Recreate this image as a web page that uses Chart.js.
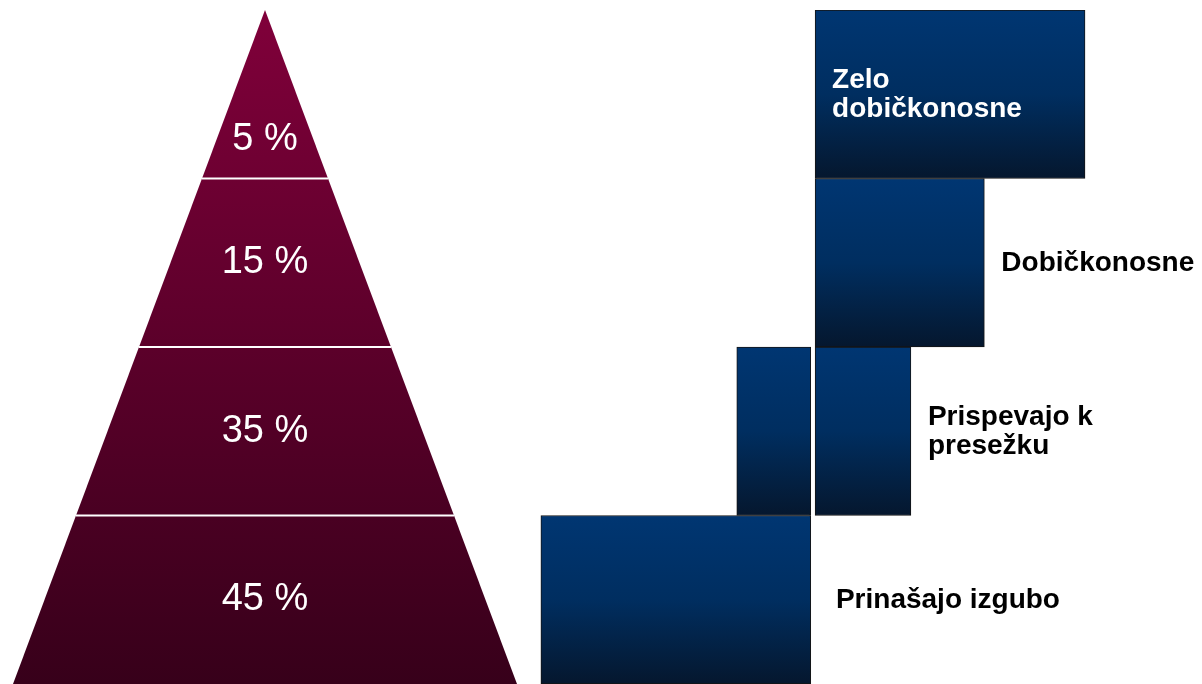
<!DOCTYPE html>
<html>
<head>
<meta charset="utf-8">
<script src="https://cdn.jsdelivr.net/npm/chart.js@4.4.1/dist/chart.umd.min.js"></script>
<style>
  html, body { margin: 0; padding: 0; background: #fff; }
  #wrap { position: relative; width: 1202px; height: 684px; overflow: hidden; }
  #pyrBox { position: absolute; left: 0; top: 0; width: 530px; height: 684px; }
  #barBox { position: absolute; left: 530px; top: 0; width: 672px; height: 684px; }
</style>
</head>
<body>
<div id="wrap">
  <div id="pyrBox"><canvas id="pyramid"></canvas></div>
  <div id="barBox"><canvas id="bars"></canvas></div>
</div>
<script>
// deleži strank po piramidi (od vrha navzdol)
const deleži = [5, 15, 35, 45];
const nivoji = 4; // število pasov v piramidi

// kategorije in vrednosti za desni graf (od vrha navzdol)
const kategorije = [
  ["Zelo", "dobičkonosne"],
  ["Dobičkonosne"],
  ["Prispevajo k", "presežku"],
  ["Prinašajo izgubo"]
];
const pozitivno = [100, 63, 36, 0];
const negativno = [0, 0, -28, -100];
const GAP = 0.8; // bela reža okoli ničle

const FONT = "'Liberation Sans', Arial, sans-serif";

// ---------- piramida ----------
function polSirina(nivo) {
  return (nivoji - nivo) / nivoji;
}

const piramidaData = [
  { x: -polSirina(0), y: 0 },
  { x: 0, y: nivoji },
  { x: polSirina(0), y: 0 }
];

const crte = [];
for (let n = 1; n < nivoji; n++) {
  crte.push({
    data: [{ x: -polSirina(n), y: n }, { x: polSirina(n), y: n }],
    showLine: true,
    borderColor: "#ffffff",
    borderWidth: 2,
    pointRadius: 0,
    fill: false,
    order: 0
  });
}

const napisiPiramida = {
  id: "napisiPiramida",
  afterDatasetsDraw(chart) {
    const ctx = chart.ctx;
    const xs = chart.scales.x, ys = chart.scales.y;
    ctx.save();
    ctx.fillStyle = "#ffffff";
    ctx.font = "38px " + FONT;
    ctx.textAlign = "center";
    ctx.textBaseline = "middle";
    deleži.forEach((d, i) => {
      // vrh je trikotnik, zato je napis malo nižje
      const nivo = i === 0 ? nivoji - 0.77 : nivoji - 0.5 - i;
      ctx.fillText(d + " %", xs.getPixelForValue(0), ys.getPixelForValue(nivo));
    });
    ctx.restore();
  }
};

new Chart(document.getElementById("pyramid"), {
  type: "scatter",
  data: {
    datasets: [{
      data: piramidaData,
      showLine: true,
      borderWidth: 0,
      pointRadius: 0,
      fill: "origin",
      order: 1,
      backgroundColor: (c) => {
        const area = c.chart.chartArea;
        if (!area) return "#5a0028";
        const g = c.chart.ctx.createLinearGradient(0, area.top, 0, area.bottom);
        g.addColorStop(0, "#80003a");
        g.addColorStop(1, "#37001a");
        return g;
      }
    }].concat(crte)
  },
  options: {
    responsive: true,
    maintainAspectRatio: false,
    animation: false,
    layout: { padding: { top: 10, left: 0, right: 0, bottom: 0 } },
    plugins: { legend: { display: false }, tooltip: { enabled: false } },
    scales: {
      x: { type: "linear", min: -1.0516, max: 1.0516, display: false },
      y: { type: "linear", min: 0, max: nivoji, display: false }
    }
  },
  plugins: [napisiPiramida]
});

// ---------- stolpci ----------
function gradientStolpca(c) {
  const chart = c.chart;
  if (!chart.chartArea || !chart.scales.y) return "#00306a";
  const ys = chart.scales.y;
  const h = (chart.chartArea.bottom - chart.chartArea.top) / kategorije.length;
  const sred = ys.getPixelForValue(c.dataIndex);
  const g = chart.ctx.createLinearGradient(0, sred - h / 2, 0, sred + h / 2);
  g.addColorStop(0, "#003672");
  g.addColorStop(0.5, "#002e60");
  g.addColorStop(1, "#05172e");
  return g;
}

const napisiStolpci = {
  id: "napisiStolpci",
  afterDatasetsDraw(chart) {
    const ctx = chart.ctx;
    const xs = chart.scales.x, ys = chart.scales.y;
    ctx.save();
    ctx.font = "bold 28px " + FONT;
    ctx.textAlign = "left";
    ctx.textBaseline = "middle";
    const vrstica = 29;
    kategorije.forEach((vrstice, i) => {
      let x, barva;
      if (i === 0) {
        // napis znotraj najdaljšega stolpca
        x = xs.getPixelForValue(GAP) + 17;
        barva = "#ffffff";
      } else if (pozitivno[i] > 0) {
        x = xs.getPixelForValue(pozitivno[i]) + 17;
        barva = "#000000";
      } else {
        x = xs.getPixelForValue(0) + 23;
        barva = "#000000";
      }
      ctx.fillStyle = barva;
      const y0 = ys.getPixelForValue(i) - (vrstice.length - 1) * vrstica / 2 + 1;
      vrstice.forEach((t, k) => ctx.fillText(t, x, y0 + k * vrstica));
    });
    ctx.restore();
  }
};

new Chart(document.getElementById("bars"), {
  type: "bar",
  data: {
    labels: kategorije.map(k => k.join(" ")),
    datasets: [
      {
        data: pozitivno.map(v => v > 0 ? [GAP, v] : null),
        backgroundColor: gradientStolpca,
        borderColor: "#141414",
        borderWidth: 1,
        borderSkipped: false,
        barPercentage: 1,
        categoryPercentage: 1,
        grouped: false
      },
      {
        data: negativno.map(v => v < 0 ? [v, -GAP] : null),
        backgroundColor: gradientStolpca,
        borderColor: "#141414",
        borderWidth: 1,
        borderSkipped: false,
        barPercentage: 1,
        categoryPercentage: 1,
        grouped: false
      }
    ]
  },
  options: {
    indexAxis: "y",
    responsive: true,
    maintainAspectRatio: false,
    animation: false,
    layout: { padding: { top: 10, left: 0, right: 0, bottom: 0 } },
    plugins: { legend: { display: false }, tooltip: { enabled: false } },
    scales: {
      x: { type: "linear", min: -104, max: 143, display: false },
      y: { type: "category", display: false }
    }
  },
  plugins: [napisiStolpci]
});
</script>
</body>
</html>
